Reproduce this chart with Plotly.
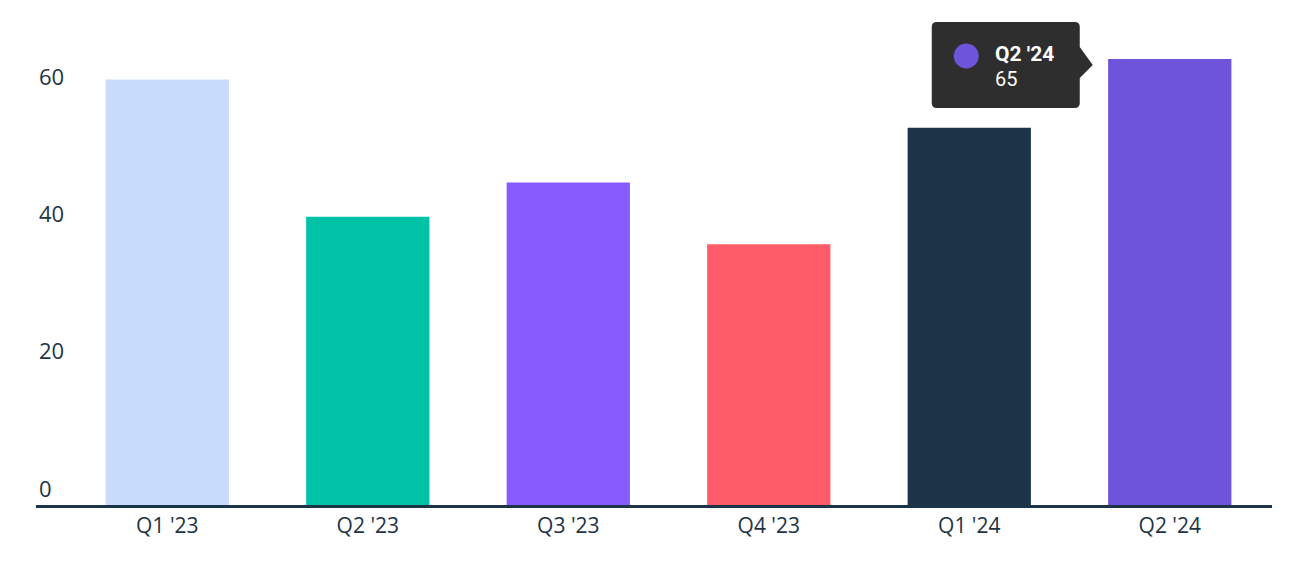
import plotly.graph_objects as go

# data
quarters = ["Q1 '23", "Q2 '23", "Q3 '23", "Q4 '23", "Q1 '24", "Q2 '24"]
values = [62, 42, 47, 38, 55, 65]
bar_colors = ["#C9DCFD", "#00C2A7", "#875BFF", "#FF5C69", "#1B3447", "#6D54DB"]
y_ticks = [0, 20, 40, 60]

text_col = "#1E3344"
tip_bg = "#2E2E2E"

fig = go.Figure()
fig.add_trace(go.Bar(x=list(range(len(quarters))), y=values,
                     marker=dict(color=bar_colors, line_width=0),
                     hoverinfo="skip"))

# static tooltip on the last bar (pixel offsets from the bar's top)
ix, iv = len(quarters) - 1, values[-1]
tip_path = ("M -233,37 L -95,37 Q -90,37 -90,32 L -90,12 L -77,-6 L -90,-19 "
            "L -90,-44 Q -90,-49 -95,-49 L -233,-49 Q -238,-49 -238,-44 "
            "L -238,32 Q -238,37 -233,37 Z")
fig.add_shape(type="path", path=tip_path, xref="x", yref="y",
              xsizemode="pixel", ysizemode="pixel", xanchor=ix, yanchor=iv,
              fillcolor=tip_bg, line_width=0, layer="above")
fig.add_shape(type="circle", xref="x", yref="y",
              xsizemode="pixel", ysizemode="pixel", xanchor=ix, yanchor=iv,
              x0=-216, x1=-191, y0=-9.5, y1=15.5,
              fillcolor=bar_colors[-1], line_width=0, layer="above")
fig.add_annotation(x=ix, y=iv, xref="x", yref="y", text="<b>%s</b>" % quarters[-1],
                   showarrow=False, xanchor="left", yanchor="middle",
                   xshift=-177, yshift=5,
                   font=dict(family="Roboto", size=21, color="white"))
fig.add_annotation(x=ix, y=iv, xref="x", yref="y", text=str(iv),
                   showarrow=False, xanchor="left", yanchor="middle",
                   xshift=-177, yshift=-20,
                   font=dict(family="Roboto", size=20, color="white"))

# page body adds 8px, so margins are offset to keep the plot where it belongs
fig.update_layout(
    width=1292, height=563,
    margin=dict(l=28, r=28, t=3, b=66),
    paper_bgcolor="white", plot_bgcolor="white",
    bargap=0.385, showlegend=False, hovermode=False,
    font=dict(family="Open Sans", color=text_col),
)
fig.update_xaxes(range=[-0.655, 5.51], tickvals=list(range(len(quarters))),
                 ticktext=quarters, showgrid=False, zeroline=False,
                 showline=True, linecolor="#1B3447", linewidth=2.5,
                 ticks="", automargin=False,
                 tickfont=dict(size=21, color=text_col))
fig.update_yaxes(range=[0, 72], tickvals=y_ticks, showgrid=False,
                 zeroline=False, showline=False, ticks="", automargin=False,
                 ticklabelposition="inside", ticklabelshift=-16,
                 ticklabelstandoff=0,
                 tickfont=dict(size=22, color=text_col))

fig.write_html("out.html")
